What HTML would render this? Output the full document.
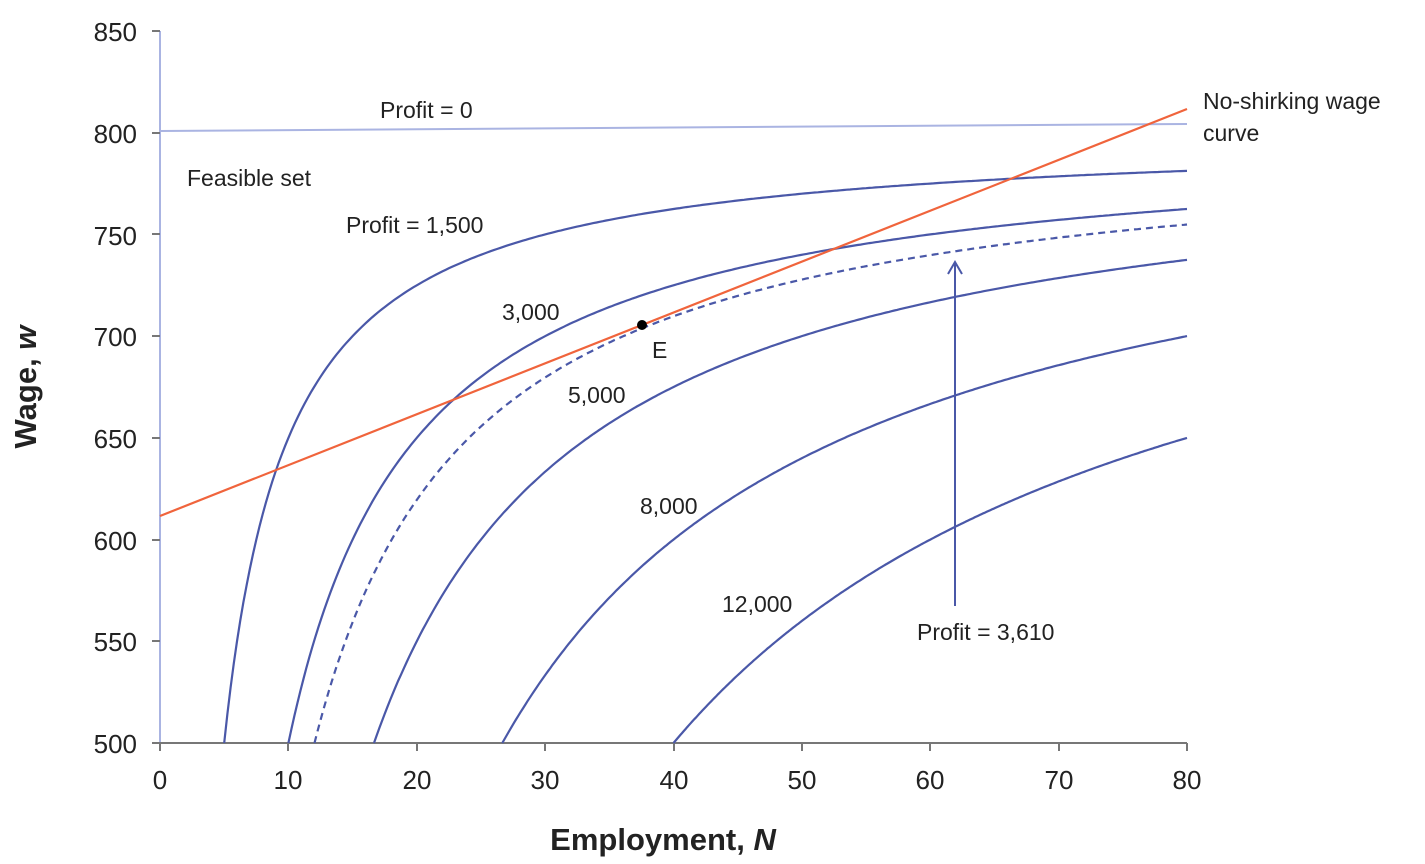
<!DOCTYPE html>
<html><head><meta charset="utf-8"><style>
body{margin:0;background:#fff;}
svg text{font-family:"Liberation Sans",sans-serif;fill:#222;}
</style></head><body>
<svg id="s" width="1425" height="859" xmlns="http://www.w3.org/2000/svg">
<g font-size="26" text-anchor="end">
<text x="137" y="41">850</text><text x="137" y="143">800</text><text x="137" y="245">750</text>
<text x="137" y="346">700</text><text x="137" y="448">650</text><text x="137" y="550">600</text>
<text x="137" y="651">550</text><text x="137" y="753">500</text>
</g>
<g font-size="26" text-anchor="middle">
<text x="160" y="789">0</text><text x="288" y="789">10</text><text x="417" y="789">20</text>
<text x="545" y="789">30</text><text x="674" y="789">40</text><text x="802" y="789">50</text>
<text x="930" y="789">60</text><text x="1059" y="789">70</text><text x="1187" y="789">80</text>
</g>
<text x="663" y="850" font-size="31" font-weight="bold" text-anchor="middle">Employment, <tspan font-style="italic">N</tspan></text>
<text transform="translate(36,387) rotate(-90)" font-size="31" font-weight="bold" text-anchor="middle">Wage, <tspan font-style="italic">w</tspan></text>
<line x1="160" y1="31" x2="160" y2="743" stroke="#aab4e2" stroke-width="2"/>
<line x1="152" y1="743" x2="1187" y2="743" stroke="#777" stroke-width="2"/>
<g stroke="#777" stroke-width="2">
<line x1="152" y1="31" x2="160" y2="31"/><line x1="152" y1="133" x2="160" y2="133"/><line x1="152" y1="234" x2="160" y2="234"/><line x1="152" y1="336" x2="160" y2="336"/><line x1="152" y1="438" x2="160" y2="438"/><line x1="152" y1="540" x2="160" y2="540"/><line x1="152" y1="641" x2="160" y2="641"/>
<line x1="160" y1="743" x2="160" y2="751"/><line x1="288" y1="743" x2="288" y2="751"/><line x1="417" y1="743" x2="417" y2="751"/><line x1="545" y1="743" x2="545" y2="751"/><line x1="674" y1="743" x2="674" y2="751"/><line x1="802" y1="743" x2="802" y2="751"/><line x1="930" y1="743" x2="930" y2="751"/><line x1="1059" y1="743" x2="1059" y2="751"/><line x1="1187" y1="743" x2="1187" y2="751"/>
</g>
<line x1="160" y1="131" x2="1187" y2="124" stroke="#aab4e2" stroke-width="2"/>
<g id="curves" fill="none" stroke="#4a58a8" stroke-width="2.2"></g>
<line x1="160" y1="516" x2="1187" y2="109" stroke="#f0643c" stroke-width="2.2"/>
<line x1="955" y1="606" x2="955" y2="264" stroke="#4a58a8" stroke-width="2"/>
<polyline points="948,274 955,262 962,274" fill="none" stroke="#4a58a8" stroke-width="2"/>
<circle cx="642" cy="325" r="5" fill="#000"/>
<g font-size="23">
<text x="380" y="118">Profit = 0</text>
<text x="187" y="186">Feasible set</text>
<text x="346" y="233">Profit = 1,500</text>
<text x="502" y="320">3,000</text>
<text x="652" y="358">E</text>
<text x="568" y="403">5,000</text>
<text x="640" y="514">8,000</text>
<text x="722" y="612">12,000</text>
<text x="917" y="640">Profit = 3,610</text>
<text x="1203" y="109">No-shirking wage</text>
<text x="1203" y="141">curve</text>
</g>
</svg>
<script>
var g=document.getElementById('curves');
function X(n){return 160+n*12.8375}function Y(w){return 743-(w-500)*2.0343}
[[1500,0],[3000,0],[5000,0],[8000,0],[12000,0],[3610,1]].forEach(function(c){
var C=c[0],n0=C/300,d='';for(var i=0;i<=300;i++){var n=n0+(80-n0)*i/300;d+=(i?'L':'M')+X(n).toFixed(1)+','+Y(800-C/n).toFixed(1);}
var p=document.createElementNS('http://www.w3.org/2000/svg','path');p.setAttribute('d',d);
if(c[1])p.setAttribute('stroke-dasharray','7,5');g.appendChild(p);});
</script>
</body></html>
